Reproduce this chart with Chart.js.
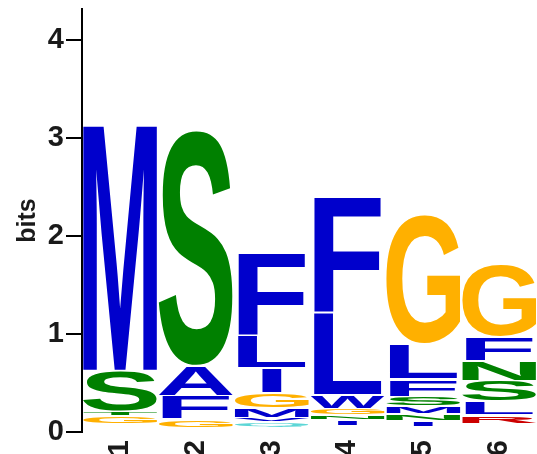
<!DOCTYPE html>
<html>
<head>
<meta charset="utf-8">
<script src="https://cdn.jsdelivr.net/npm/chart.js@4/dist/chart.umd.min.js"></script>
<style>
html,body{margin:0;padding:0;background:#fff;}
#c{display:block;}
</style>
</head>
<body>
<canvas id="c" width="537" height="454"></canvas>
<script>
// Sequence positions (x categories)
const positions = ['1', '2', '3', '4', '5', '6'];
// Letters stacked in each position, bottom to top
const stackLetters = [
  ['A', 'L', 'V', 'E', 'G', 'T', 'S', 'M'],
  ['L', 'V', 'G', 'F', 'A', 'S'],
  ['A', 'L', 'Q', 'V', 'M', 'G', 'I', 'L', 'F'],
  ['A', 'V', 'M', 'I', 'N', 'G', 'W', 'L', 'F'],
  ['A', 'V', 'I', 'N', 'M', 'S', 'F', 'L', 'G'],
  ['A', 'V', 'M', 'I', 'R', 'L', 'S', 'N', 'F', 'G']
];
// Information content (bits) of each stacked letter, bottom to top
const stackBits = [
  [0.02, 0.02, 0.02, 0.02, 0.08, 0.045, 0.42, 2.51],
  [0.02, 0.02, 0.09, 0.235, 0.31, 2.41],
  [0.02, 0.02, 0.06, 0.04, 0.10, 0.155, 0.255, 0.33, 0.84],
  [0.02, 0.02, 0.02, 0.06, 0.05, 0.07, 0.14, 0.84, 1.18],
  [0.025, 0.025, 0.06, 0.07, 0.08, 0.10, 0.18, 0.36, 1.32],
  [0.02, 0.02, 0.02, 0.02, 0.09, 0.14, 0.215, 0.20, 0.245, 0.74]
];
const yTicks = [0, 1, 2, 3, 4];
const yMax = 4.32;

const letterColors = {
  A: '#0000CC', C: '#0000CC', F: '#0000CC', I: '#0000CC', L: '#0000CC', M: '#0000CC', V: '#0000CC', W: '#0000CC',
  S: '#008000', T: '#008000', N: '#008000', Y: '#008000',
  G: '#FFB000',
  R: '#CC0000', K: '#CC0000', D: '#CC0000', E: '#CC0000',
  Q: '#5CD6D6', H: '#5CD6D6', P: '#FFB000'
};

const nRanks = Math.max(...stackLetters.map(a => a.length));
const datasets = [];
for (let r = 0; r < nRanks; r++) {
  datasets.push({
    label: 'rank' + r,
    data: stackBits.map(col => (col[r] !== undefined ? col[r] : 0)),
    backgroundColor: 'rgba(0,0,0,0)',
    borderWidth: 0,
    barPercentage: 0.97,
    categoryPercentage: 1,
    stack: 'logo'
  });
}

// Glyph ink box measured from pixels (robust across platforms)
const GLYPH_FONT = 'bold 200px "Liberation Sans", Arial, Helvetica, sans-serif';
const GX = 100, GY = 300, GS = 420;
const inkCache = {};
function inkBox(letter) {
  if (inkCache[letter]) return inkCache[letter];
  const c = document.createElement('canvas');
  c.width = GS; c.height = GS;
  const g = c.getContext('2d');
  g.font = GLYPH_FONT;
  g.textAlign = 'left';
  g.textBaseline = 'alphabetic';
  g.fillStyle = '#000';
  g.fillText(letter, GX, GY);
  const d = g.getImageData(0, 0, GS, GS).data;
  let x0 = GS, y0 = GS, x1 = -1, y1 = -1;
  for (let y = 0; y < GS; y++) {
    for (let x = 0; x < GS; x++) {
      if (d[(y * GS + x) * 4 + 3] > 110) {
        if (x < x0) x0 = x;
        if (x > x1) x1 = x;
        if (y < y0) y0 = y;
        if (y > y1) y1 = y;
      }
    }
  }
  const box = { x0: x0, y0: y0, w: x1 - x0 + 1, h: y1 - y0 + 1 };
  inkCache[letter] = box;
  return box;
}

const logoPlugin = {
  id: 'logoLetters',
  afterDatasetsDraw(chart) {
    const ctx = chart.ctx;
    const eWidth = inkBox('E').w;
    chart.data.datasets.forEach((ds, di) => {
      const meta = chart.getDatasetMeta(di);
      meta.data.forEach((bar, pi) => {
        const letter = stackLetters[pi][di];
        const v = stackBits[pi][di];
        if (!letter || !v) return;
        const p = bar.getProps(['x', 'y', 'base', 'width'], true);
        const inset = 1.0;
        const top = Math.min(p.y, p.base) + inset;
        const h = Math.abs(p.base - p.y) - 2 * inset;
        if (h < 1) return;
        const b = inkBox(letter);
        const sx = Math.min(p.width / b.w, p.width / eWidth);
        const drawW = b.w * sx;
        ctx.save();
        ctx.font = GLYPH_FONT;
        ctx.textAlign = 'left';
        ctx.textBaseline = 'alphabetic';
        ctx.translate(p.x - drawW / 2, top);
        ctx.scale(sx, h / b.h);
        ctx.fillStyle = letterColors[letter] || '#000';
        ctx.fillText(letter, GX - b.x0, GY - b.y0);
        ctx.restore();
      });
    });
  }
};

new Chart(document.getElementById('c'), {
  type: 'bar',
  data: { labels: positions, datasets: datasets },
  options: {
    responsive: false,
    animation: false,
    layout: { padding: { top: 9, left: 0, right: 0, bottom: 0 } },
    plugins: { legend: { display: false }, tooltip: { enabled: false } },
    scales: {
      x: {
        stacked: true,
        grid: { display: false, drawTicks: false },
        border: { display: false },
        ticks: {
          autoSkip: false,
          minRotation: 90,
          maxRotation: 90,
          padding: 8,
          color: '#1a1a1a',
          font: { family: '"Liberation Sans", Arial, sans-serif', weight: 'bold', size: 29 }
        },
        afterFit(s) { s.height = 22; s.paddingLeft = 0; s.paddingRight = 0; }
      },
      y: {
        stacked: true,
        min: 0,
        max: yMax,
        afterBuildTicks(s) { s.ticks = yTicks.map(v => ({ value: v })); },
        ticks: {
          stepSize: 1,
          padding: 2,
          color: '#1a1a1a',
          font: { family: '"Liberation Sans", Arial, sans-serif', weight: 'bold', size: 29 }
        },
        grid: { drawOnChartArea: false, drawTicks: true, tickLength: 16, color: '#000', lineWidth: 2 },
        border: { display: true, color: '#000', width: 2 },
        title: {
          display: true,
          text: 'bits',
          color: '#1a1a1a',
          padding: { top: 13, bottom: 0 },
          font: { family: '"Liberation Sans", Arial, sans-serif', weight: 'bold', size: 25 }
        },
        afterFit(s) { s.width = 82; s.paddingTop = 0; s.paddingBottom = 0; }
      }
    }
  },
  plugins: [logoPlugin]
});
</script>
</body>
</html>
